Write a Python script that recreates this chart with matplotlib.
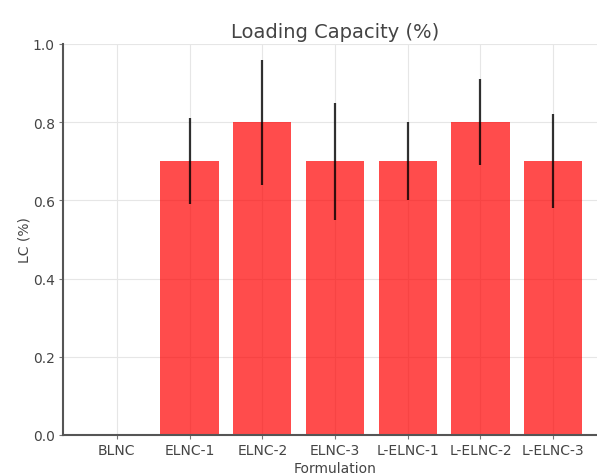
import matplotlib
matplotlib.use("Agg")
import matplotlib.pyplot as plt

formulations = ["BLNC", "ELNC-1", "ELNC-2", "ELNC-3", "L-ELNC-1", "L-ELNC-2", "L-ELNC-3"]
lc_values = [0.0, 0.7, 0.8, 0.7, 0.7, 0.8, 0.7]
lc_errors = [0.0, 0.11, 0.16, 0.15, 0.10, 0.11, 0.12]

text_color = "#444444"
plt.rcParams["font.family"] = "DejaVu Sans"

fig = plt.figure(figsize=(5.97, 4.77), dpi=100)
ax = fig.add_axes([63 / 597, 41 / 477, 544 / 597, 391 / 477])

x = list(range(len(formulations)))
ax.bar(x, lc_values, width=0.8, color="red", alpha=0.7, zorder=2)
ax.errorbar(x, lc_values, yerr=lc_errors, fmt="none", ecolor="black",
            elinewidth=1.6, capsize=0, alpha=0.8, zorder=3)

ax.set_xticks(x)
ax.set_xticklabels(formulations)
ax.set_xlim(-0.74, 6.74)
ax.set_ylim(0, 1.0)
ax.set_yticks([0.0, 0.2, 0.4, 0.6, 0.8, 1.0])

ax.set_title("Loading Capacity (%)", fontsize=14, color=text_color, pad=5)
ax.set_xlabel("Formulation", fontsize=10, color=text_color, labelpad=3)
ax.set_ylabel("LC (%)", fontsize=10, color=text_color, labelpad=1)

ax.grid(True, color="#e6e6e6", linewidth=0.8, zorder=0)
ax.set_axisbelow(True)
for side in ["top", "right"]:
    ax.spines[side].set_visible(False)
for side in ["left", "bottom"]:
    ax.spines[side].set_color("#555555")
    ax.spines[side].set_linewidth(1.5)
ax.tick_params(axis="both", labelsize=10, colors=text_color, length=3, pad=3)
ax.tick_params(axis="both", color="#777777")

fig.savefig("out.png", dpi=100)
